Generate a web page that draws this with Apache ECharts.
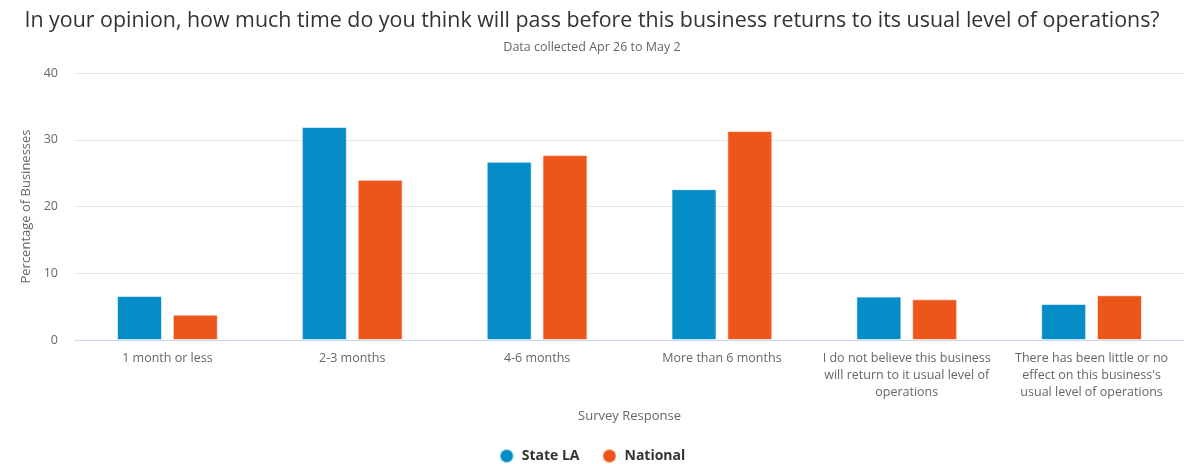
<!DOCTYPE html>
<html>
<head>
<meta charset="utf-8">
<script src="https://cdn.jsdelivr.net/npm/echarts@6/dist/echarts.min.js"></script>
<style>
html,body{margin:0;padding:0;background:#fff;}
#chart{width:1184px;height:464px;}
</style>
</head>
<body>
<div id="chart"></div>
<script>
const categories = [
  "1 month or less",
  "2-3 months",
  "4-6 months",
  "More than 6 months",
  "I do not believe this business\nwill return to it usual level of\noperations",
  "There has been little or no\neffect on this business's\nusual level of operations"
];
const stateLA = [6.6, 31.9, 26.7, 22.6, 6.5, 5.4];
const national = [3.8, 24.0, 27.7, 31.3, 6.1, 6.7];
const yTicks = [0, 10, 20, 30, 40];

const font = "'Open Sans', 'Noto Sans', sans-serif";
const chart = echarts.init(document.getElementById('chart'), null, {renderer: 'canvas'});
chart.setOption({
  animation: false,
  color: ['#058DC7', '#ED561B'],
  title: {
    text: 'In your opinion, how much time do you think will pass before this business returns to its usual level of operations?',
    subtext: 'Data collected Apr 26 to May 2',
    left: 'center',
    top: 5,
    itemGap: 10,
    textStyle: {fontFamily: font, fontSize: 21.4, fontWeight: 'normal', color: '#333333'},
    subtextStyle: {fontFamily: font, fontSize: 12.5, color: '#666666'}
  },
  legend: {
    bottom: 0,
    left: 'center',
    padding: [0, 5, 0, 5],
    icon: 'circle',
    itemWidth: 14,
    itemHeight: 14,
    itemGap: 22,
    textStyle: {fontFamily: font, fontSize: 14, fontWeight: 'bold', color: '#333333', padding: [0, 0, 0, 3]}
  },
  grid: {left: 75, top: 73, width: 1118, height: 267, containLabel: false},
  xAxis: {
    type: 'category',
    data: categories,
    name: 'Survey Response',
    nameLocation: 'middle',
    nameGap: 70,
    nameTextStyle: {fontFamily: font, fontSize: 13, color: '#666666'},
    axisLine: {lineStyle: {color: '#ccd6eb'}},
    axisTick: {show: false},
    axisLabel: {
      interval: 0,
      margin: 10,
      lineHeight: 17,
      fontFamily: font,
      fontSize: 12.5,
      color: '#666666'
    }
  },
  yAxis: {
    type: 'value',
    min: yTicks[0],
    max: yTicks[yTicks.length - 1],
    interval: 10,
    name: 'Percentage of Businesses',
    nameLocation: 'middle',
    nameGap: 41,
    nameTextStyle: {fontFamily: font, fontSize: 13, color: '#666666'},
    axisLine: {show: false},
    axisTick: {show: false},
    splitLine: {lineStyle: {color: '#e6e6e6'}},
    axisLabel: {margin: 17, fontFamily: font, fontSize: 12.5, color: '#666666'}
  },
  series: [
    {name: 'State LA', type: 'bar', data: stateLA, barWidth: 45, barGap: '24%',
     itemStyle: {borderColor: 'rgba(255,255,255,0.6)', borderWidth: 1}},
    {name: 'National', type: 'bar', data: national, barWidth: 45, barGap: '24%',
     itemStyle: {borderColor: 'rgba(255,255,255,0.6)', borderWidth: 1}}
  ]
});
</script>
</body>
</html>
